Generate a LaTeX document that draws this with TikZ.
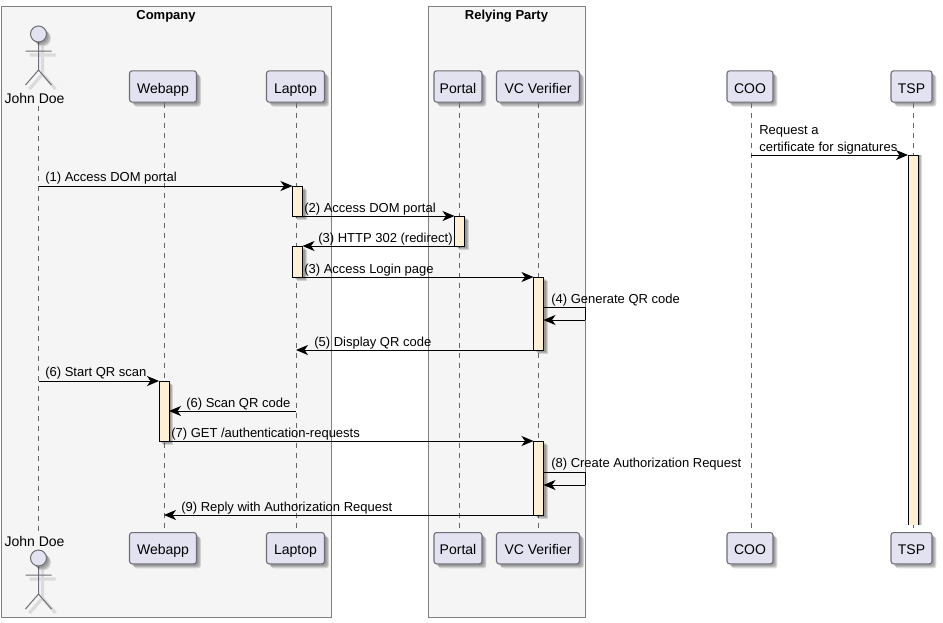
\documentclass[tikz,border=0pt]{standalone}
\usepackage{fontspec}
\setmainfont{Liberation Sans}
\usetikzlibrary{arrows.meta,shadows,calc}
\definecolor{partfill}{HTML}{E2E2F0}
\definecolor{actfill}{HTML}{FFEFD5}
\definecolor{edgegray}{HTML}{6E6E78}
\tikzset{
  x=0.75pt,y=-0.75pt,
  grp/.style={draw=black!50,fill=black!4,line width=0.75pt,inner sep=0pt,outer sep=0pt,anchor=north west},
  grplabel/.style={font=\fontsize{9.75}{11}\selectfont\bfseries,inner sep=0pt},
  softshd/.style={
    drop shadow={shadow xshift=1.5pt,shadow yshift=-1.5pt,fill=black,opacity=.14},
    drop shadow={shadow xshift=2.5pt,shadow yshift=-2.5pt,fill=black,opacity=.14},
    drop shadow={shadow xshift=3.3pt,shadow yshift=-3.3pt,fill=black,opacity=.14}},
  sideshd/.style={
    drop shadow={shadow xshift=1.5pt,shadow yshift=0pt,fill=black,opacity=.14},
    drop shadow={shadow xshift=2.5pt,shadow yshift=0pt,fill=black,opacity=.14},
    drop shadow={shadow xshift=3.3pt,shadow yshift=0pt,fill=black,opacity=.14}},
  part/.style={draw=edgegray,fill=partfill,rounded corners=2pt,line width=0.8pt,minimum height=23.5pt,inner sep=0pt,font=\fontsize{10.5}{12}\selectfont,text=black,text height=9.8pt,text depth=0pt,softshd},
  life/.style={draw=black!60,line width=0.6pt,dash pattern=on 3.75pt off 3.75pt},
  act/.style={draw=black,fill=actfill,line width=0.75pt,minimum width=7.5pt,inner sep=0pt,outer sep=0pt,softshd},
  actopen/.style={fill=actfill,minimum width=7.5pt,inner sep=0pt,outer sep=0pt,sideshd},
  actedge/.style={draw=black,line width=0.75pt},
  msg/.style={draw=black,line width=0.75pt,-{Stealth[length=9pt,width=7.5pt,inset=2.6pt]}},
  seg/.style={draw=black,line width=0.75pt},
  lbl/.style={font=\fontsize{9.75}{12}\selectfont,inner sep=0pt,anchor=base west,text=black},
  aname/.style={font=\fontsize{10.5}{12}\selectfont,inner sep=0pt,anchor=base,text=black},
  head/.style={draw=edgegray,fill=partfill,circle,line width=0.75pt,minimum size=12pt,inner sep=0pt,softshd},
}
\begin{document}
\begin{tikzpicture}
\useasboundingbox (0,0) rectangle (943,622);
% groups
\node[grp,minimum width=247.5pt,minimum height=457.9pt] (company) at (1.5,6.5) {};
\node[grp,minimum width=117.75pt,minimum height=457.9pt] (rp) at (428.5,6.5) {};
\node[grplabel,anchor=base] (companyl) at (166,19) {Company};
\node[grplabel,anchor=base] (rpl) at (506.5,19) {Relying Party};
% participants
\foreach \n/\t/\x/\w in {web/Webapp/163/50.25,lap/Laptop/295.5/43.5,por/Portal/458/36,vc/VC Verifier/538/62.25,coo/COO/750/34.5,tsp/TSP/911.5/30.75}{
  \node[part,minimum width=\w pt] (\n top) at (\x,86.5) {\t};
  \node[part,minimum width=\w pt] (\n bot) at (\x,548.2) {\t};
}
% actor names
\node[aname] (johntop) at (34.5,103.5) {John Doe};
\node[aname] (johnbot) at (34.5,546.5) {John Doe};
\coordinate (jt) at (38.5,106);
\coordinate (jb) at (38.5,532);
% lifelines
\draw[life] (jt) -- (jb);
\draw[life] ([xshift=0.75pt]webtop.south) -- ([xshift=0.75pt]webbot.north);
\draw[life] ([xshift=0.4pt]laptop.south) -- ([xshift=0.4pt]lapbot.north);
\draw[life] ([xshift=1.1pt]portop.south) -- ([xshift=1.1pt]porbot.north);
\draw[life] (vctop.south) -- (vcbot.north);
\draw[life] ([xshift=0.75pt]cootop.south) -- ([xshift=0.75pt]coobot.north);
\draw[life] ([xshift=1.1pt]tsptop.south) -- ([xshift=1.1pt]tspbot.north);
% actors
\foreach \s/\hy in {t/34,b/558}{
  \coordinate (neck\s) at (38.5,\hy+8);
  \coordinate (armL\s) at (25.5,\hy+17);
  \coordinate (armR\s) at (51.5,\hy+17);
  \coordinate (hip\s) at (38.5,\hy+36);
  \coordinate (legL\s) at (25.5,\hy+51);
  \coordinate (legR\s) at (51.5,\hy+51);
  \draw[draw=black!14,line width=2.4pt,shift={(4,4)}] (38.5,\hy+8) -- (38.5,\hy+36) (25.5,\hy+17) -- (51.5,\hy+17) (25.5,\hy+51) -- (38.5,\hy+36) -- (51.5,\hy+51);
  \draw[draw=edgegray,line width=0.75pt] (neck\s) -- (hip\s) (armL\s) -- (armR\s) (legL\s) -- (hip\s) -- (legR\s);
  \node[head] (head\s) at (38.5,\hy) {};
}
% activations
\foreach \n/\x/\a/\b in {a1/297.5/186/216,a2/459.5/216/246,a3/297.5/246/277,a4/538.5/277/350,a5/164/381/441,a6/538.5/441/515}{
  \node[act,minimum height=(\b-\a)*0.75pt,anchor=north] (\n) at (\x,\a) {};
}
\node[actopen,minimum height=277.5pt,anchor=north] (a7) at (913,155) {};
\draw[actedge] (a7.south west) -- (a7.north west) -- (a7.north east) -- (a7.south east);
% lifeline points
\coordinate (p1) at (38.5,186);
\coordinate (p6) at (38.5,381);
\coordinate (l5) at (296,350);
\coordinate (l6) at (296,411);
\coordinate (c0) at (751,155);
\coordinate (w9) at (164,515);
% self-loop corners
\coordinate (s4a) at (585,307); \coordinate (s4b) at (585,320);
\coordinate (s8a) at (585,472); \coordinate (s8b) at (585,485);
% messages
\draw[msg] (p1) -- (p1 -| a1.west);
\node[lbl] (m1) at (45,181) {(1) Access DOM portal};
\draw[msg] (a1.south east) -- (a1.south east -| a2.west);
\node[lbl] (m2) at (304,212) {(2) Access DOM portal};
\draw[msg] (a2.south west) -- (a2.south west -| a3.east);
\node[lbl] (m3) at (318,242) {(3) HTTP 302 (redirect)};
\draw[msg] (a3.south east) -- (a3.south east -| a4.west);
\node[lbl] (m3b) at (304,273) {(3) Access Login page};
\draw[seg] (a4.east |- s4a) -- (s4a) -- (s4b);
\draw[msg] (s4b) -- (a4.east |- s4b);
\node[lbl] (m4) at (551,303) {(4) Generate QR code};
\draw[msg] (a4.south west) -- (a4.south west -| l5);
\node[lbl] (m5) at (314,346) {(5) Display QR code};
\draw[msg] (p6) -- (p6 -| a5.west);
\node[lbl] (m6) at (45,376) {(6) Start QR scan};
\draw[msg] (l6) -- (a5.east |- l6);
\node[lbl] (m6b) at (186,407) {(6) Scan QR code};
\draw[msg] (a5.south east) -- (a5.south east -| a6.west);
\node[lbl] (m7) at (171,437) {(7) GET /authentication-requests};
\draw[seg] (a6.east |- s8a) -- (s8a) -- (s8b);
\draw[msg] (s8b) -- (a6.east |- s8b);
\node[lbl] (m8) at (551,467) {(8) Create Authorization Request};
\draw[msg] (a6.south west) -- (a6.south west -| w9);
\node[lbl] (m9) at (181,511) {(9) Reply with Authorization Request};
\draw[msg] (c0) -- (c0 -| a7.west);
\node[lbl] (m0a) at (759,134) {Request a};
\node[lbl] (m0b) at (759,151) {certificate for signatures};
\end{tikzpicture}
\end{document}
